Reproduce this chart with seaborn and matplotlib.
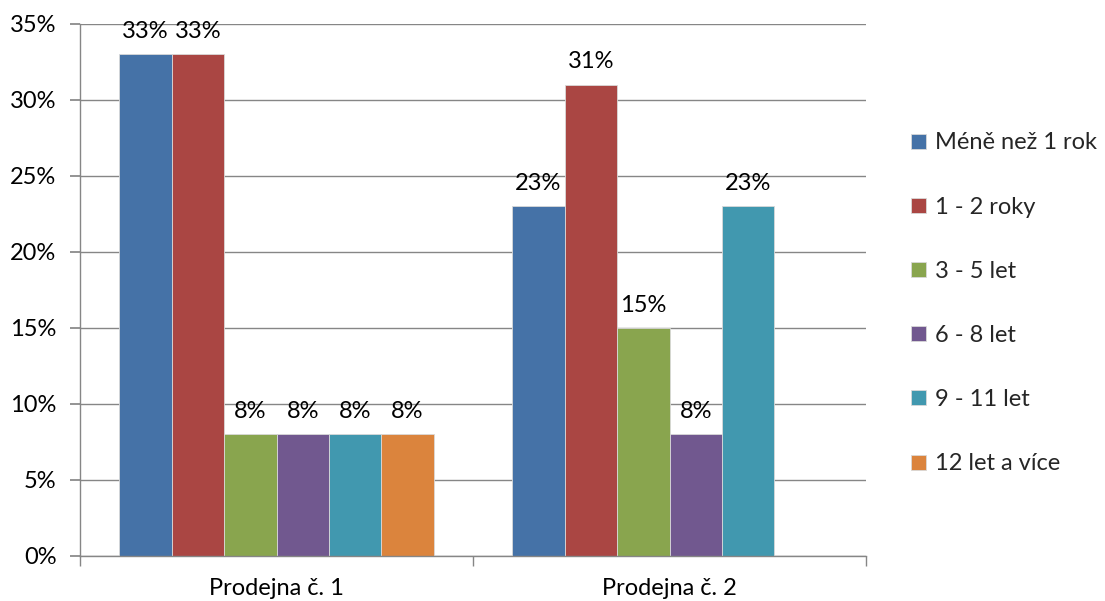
import numpy as np
import pandas as pd
import seaborn as sns
import matplotlib
matplotlib.use("Agg")
import matplotlib.pyplot as plt
from matplotlib.ticker import PercentFormatter, FixedLocator

stores = ["Prodejna č. 1", "Prodejna č. 2"]
groups = ["Méně než 1 rok", "1 - 2 roky", "3 - 5 let", "6 - 8 let", "9 - 11 let", "12 let a více"]
store1 = [0.33, 0.33, 0.08, 0.08, 0.08, 0.08]
store2 = [0.23, 0.31, 0.15, 0.08, 0.23, np.nan]
colors = ["#4572A7", "#AA4643", "#89A54E", "#71588F", "#4198AF", "#DB843D"]

rows = []
for s, vals in zip(stores, [store1, store2]):
    for g, v in zip(groups, vals):
        rows.append({"store": s, "group": g, "value": v})
df = pd.DataFrame(rows)

sns.set_theme(style="white")
plt.rcParams['font.family'] = ['Lato', 'DejaVu Sans']
FS = 17

fig = plt.figure(figsize=(11.05, 6.01), dpi=100)
ax = fig.add_axes([80/1105, 1-556/601, (866-80)/1105, (556-24)/601])

sns.barplot(data=df, x="store", y="value", hue="group", order=stores, hue_order=groups,
            palette=colors, saturation=1, width=0.8, errorbar=None, ax=ax,
            edgecolor="#d9d9d9", linewidth=0.6, legend=True)

for cont in ax.containers:
    for rect, v in zip(cont.patches, cont.datavalues):
        if np.isnan(v):
            continue
        ax.annotate(f"{v*100:.0f}%", (rect.get_x() + rect.get_width()/2, rect.get_height()),
                    xytext=(0, 9), textcoords="offset points", ha="center", va="bottom",
                    fontsize=FS, color="black")

ax.set_xlim(-0.5, 1.5)
ax.set_ylim(0, 0.35)
ax.set_yticks(np.arange(0, 0.351, 0.05))
ax.yaxis.set_major_formatter(PercentFormatter(1.0, decimals=0))
ax.yaxis.grid(True, color="#868686", linewidth=1)
ax.set_axisbelow(True)
ax.set_xlabel("")
ax.set_ylabel("")
for sp in ["top", "right"]:
    ax.spines[sp].set_visible(False)
for sp in ["left", "bottom"]:
    ax.spines[sp].set_color("#868686")
    ax.spines[sp].set_linewidth(1)
ax.tick_params(axis="y", length=7, color="#868686", labelsize=FS, pad=10, left=True, labelcolor="black")
ax.tick_params(axis="x", which="major", length=0, labelsize=FS, pad=16, labelcolor="black")
ax.xaxis.set_minor_locator(FixedLocator([-0.5, 0.5, 1.5]))
ax.tick_params(axis="x", which="minor", length=7, color="#868686", bottom=True)

handles, labels = ax.get_legend_handles_labels()
ax.get_legend().remove()
fig.legend(handles, labels, loc="upper left", bbox_to_anchor=(902/1105, 1-123/601),
           frameon=False, fontsize=FS, handlelength=0.6, handleheight=0.6,
           handletextpad=0.4, labelspacing=1.83, borderaxespad=0)

fig.savefig("out.png", dpi=100)
